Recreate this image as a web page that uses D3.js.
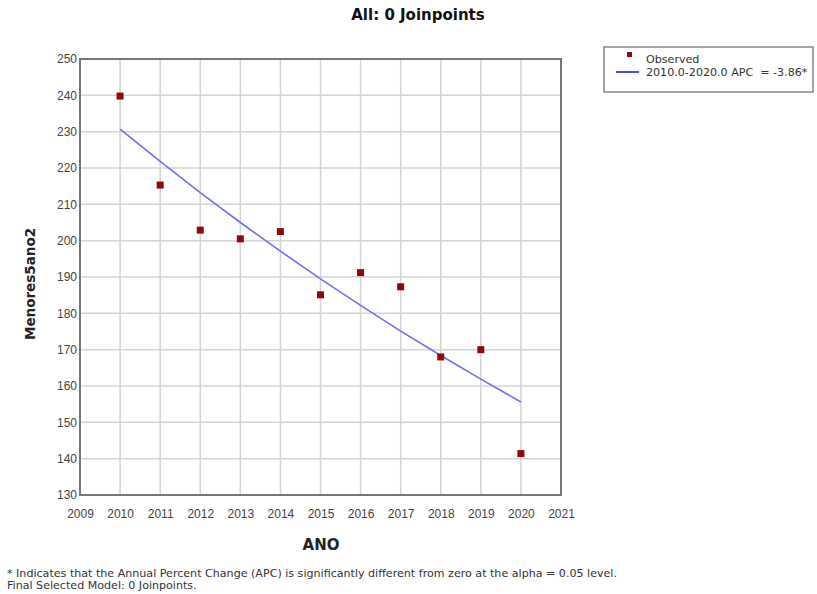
<!DOCTYPE html>
<html>
<head>
<meta charset="utf-8">
<script src="https://cdn.jsdelivr.net/npm/d3@7"></script>
<style>
  body { margin: 0; background: #ffffff; }
  text { font-family: "DejaVu Sans", Verdana, sans-serif; }
</style>
</head>
<body>
<div id="chart"></div>
<script>
const width = 817;
const height = 594;
const margin = { top: 59, right: 256, bottom: 99, left: 80 };

// data
const years = [2010, 2011, 2012, 2013, 2014, 2015, 2016, 2017, 2018, 2019, 2020];
const observed = [239.8, 215.3, 202.9, 200.5, 202.5, 185.1, 191.2, 187.3, 168.0, 170.0, 141.4];
const modeled = [230.7, 221.8, 213.2, 205.0, 197.1, 189.5, 182.2, 175.1, 168.4, 161.9, 155.6];
const xTicks = d3.range(2009, 2022);
const yTicks = d3.range(130, 251, 10);
const legendLabels = ["Observed", "2010.0-2020.0 APC  = -3.86*"];
const notes = [
    "* Indicates that the Annual Percent Change (APC) is significantly different from zero at the alpha = 0.05 level.",
    "Final Selected Model: 0 Joinpoints."
];

const svg = d3.select("#chart")
    .append("svg")
    .attr("width", width)
    .attr("height", height);

const xScale = d3.scaleLinear()
    .domain([2009, 2021])
    .range([margin.left, width - margin.right]);
const yScale = d3.scaleLinear()
    .domain([130, 250])
    .range([height - margin.bottom, margin.top]);

// title
svg.append("text")
    .attr("x", 418)
    .attr("y", 20)
    .attr("text-anchor", "middle")
    .style("font-size", "15px")
    .style("font-weight", "bold")
    .style("fill", "#111")
    .text("All: 0 Joinpoints");

// grid
svg.append("g")
    .selectAll("line")
    .data(xTicks)
    .join("line")
    .attr("x1", d => xScale(d))
    .attr("x2", d => xScale(d))
    .attr("y1", margin.top)
    .attr("y2", height - margin.bottom)
    .attr("stroke", "#d4d4d4")
    .attr("stroke-width", 1.5);
svg.append("g")
    .selectAll("line")
    .data(yTicks)
    .join("line")
    .attr("x1", margin.left)
    .attr("x2", width - margin.right)
    .attr("y1", d => yScale(d))
    .attr("y2", d => yScale(d))
    .attr("stroke", "#d4d4d4")
    .attr("stroke-width", 1.5);

// plot border
svg.append("rect")
    .attr("x", margin.left)
    .attr("y", margin.top)
    .attr("width", width - margin.right - margin.left)
    .attr("height", height - margin.bottom - margin.top)
    .attr("fill", "none")
    .attr("stroke", "#777")
    .attr("stroke-width", 2);

// axes (labels only)
const xAxis = svg.append("g")
    .attr("transform", `translate(0,${height - margin.bottom})`)
    .call(d3.axisBottom(xScale).tickValues(xTicks).tickFormat(d3.format("d")).tickSize(0).tickPadding(14));
const yAxis = svg.append("g")
    .attr("transform", `translate(${margin.left},0)`)
    .call(d3.axisLeft(yScale).tickValues(yTicks).tickSize(0).tickPadding(3));
[xAxis, yAxis].forEach(g => {
    g.select(".domain").remove();
    g.selectAll("text")
        .style("font-size", "12px")
        .style("fill", "#444")
        .style("font-family", "\"Liberation Sans\", Arial, sans-serif");
});

// axis titles
svg.append("text")
    .attr("x", 321)
    .attr("y", 550)
    .attr("text-anchor", "middle")
    .style("font-size", "15px")
    .style("font-weight", "bold")
    .style("fill", "#222")
    .text("ANO");
svg.append("text")
    .attr("transform", "rotate(-90)")
    .attr("x", -284)
    .attr("y", 35)
    .attr("text-anchor", "middle")
    .style("font-size", "13.5px")
    .style("font-weight", "bold")
    .style("fill", "#222")
    .text("Menores5ano2");

// fitted line
const line = d3.line()
    .x((d, i) => xScale(years[i]))
    .y(d => yScale(d));
svg.append("path")
    .datum(modeled)
    .attr("d", line)
    .attr("fill", "none")
    .attr("stroke", "#6f6ff5")
    .attr("stroke-width", 1.6);

// observed points
svg.append("g")
    .selectAll("rect")
    .data(observed)
    .join("rect")
    .attr("x", (d, i) => xScale(years[i]) - 3.5)
    .attr("y", d => yScale(d) - 3.5)
    .attr("width", 7)
    .attr("height", 7)
    .attr("fill", "#8b0a0a");

// legend
const legend = svg.append("g");
legend.append("rect")
    .attr("x", 604)
    .attr("y", 47)
    .attr("width", 209)
    .attr("height", 45)
    .attr("fill", "#fff")
    .attr("stroke", "#888")
    .attr("stroke-width", 1.5);
legend.append("rect")
    .attr("x", 627)
    .attr("y", 52)
    .attr("width", 5)
    .attr("height", 5)
    .attr("fill", "#8b0a0a");
legend.append("line")
    .attr("x1", 616)
    .attr("x2", 639)
    .attr("y1", 72)
    .attr("y2", 72)
    .attr("stroke", "#2020e0")
    .attr("stroke-width", 1.6);
legend.selectAll(".legend-label")
    .data(legendLabels)
    .join("text")
    .attr("class", "legend-label")
    .attr("x", 646)
    .attr("y", (d, i) => 63 + i * 13)
    .style("font-size", "11.1px")
    .style("fill", "#333")
    .style("white-space", "pre")
    .text(d => d);

// footnotes
svg.selectAll(".note")
    .data(notes)
    .join("text")
    .attr("class", "note")
    .attr("x", 7)
    .attr("y", (d, i) => 577 + i * 12)
    .style("font-size", "11.1px")
    .style("fill", "#333")
    .text(d => d);
</script>
</body>
</html>
